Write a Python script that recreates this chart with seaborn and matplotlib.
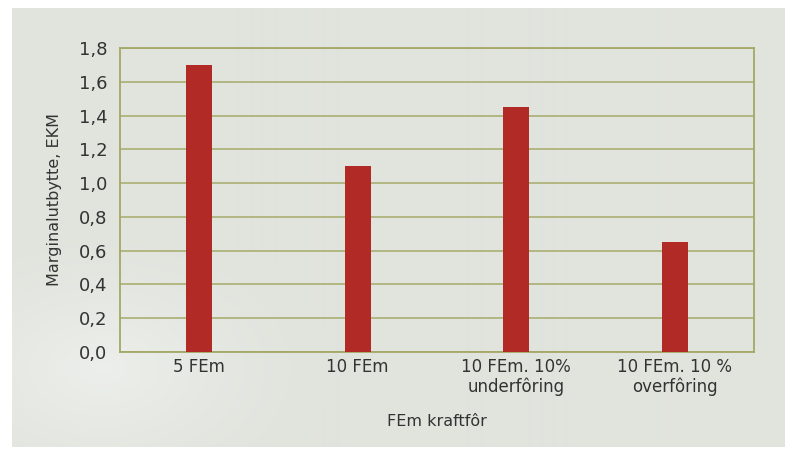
import matplotlib
matplotlib.use("Agg")
import matplotlib.pyplot as plt
import seaborn as sns
import pandas as pd
import numpy as np

categories = ["5 FEm", "10 FEm", "10 FEm. 10%\nunderfôring", "10 FEm. 10 %\noverfôring"]
values = [1.7, 1.1, 1.45, 0.65]
yticks = [0.0, 0.2, 0.4, 0.6, 0.8, 1.0, 1.2, 1.4, 1.6, 1.8]
ytick_labels = ["0,0", "0,2", "0,4", "0,6", "0,8", "1,0", "1,2", "1,4", "1,6", "1,8"]

sns.set_theme(style="white")
plt.rcParams['font.family'] = ['DejaVu Sans']

W, H = 788, 449
fig = plt.figure(figsize=(W / 100, H / 100), dpi=100)
fig.patch.set_facecolor("white")

# background panel with a soft lighter patch in the lower left
bax = fig.add_axes([12 / W, 1 - 447 / H, (784 - 12) / W, (447 - 8) / H])
bax.set_zorder(-10)
bax.axis("off")
pw, ph = 772, 439
yy, xx = np.mgrid[0:ph, 0:pw]
base = np.array([0xe1, 0xe4, 0xdd]) / 255.0
d = np.sqrt(((xx - 90) / 230.0) ** 2 + ((yy - 360) / 150.0) ** 2)
glow = np.clip(1 - d, 0, 1) ** 1.5 * 0.55
img = base[None, None, :] * (1 - glow[..., None]) + 0.97 * glow[..., None]
bax.imshow(img, aspect="auto", extent=(0, 1, 0, 1), origin="upper", interpolation="bilinear")

ax = fig.add_axes([120 / W, 1 - 352 / H, (754 - 120) / W, (352 - 48) / H])
ax.set_zorder(5)
ax.set_facecolor("none")

df = pd.DataFrame({"cat": categories, "val": values})
sns.barplot(data=df, x="cat", y="val", color="#b22a26", width=0.165, saturation=1,
            linewidth=0, ax=ax, zorder=3)

grid_c = "#afb37b"
ax.set_ylim(0, 1.8)
ax.set_yticks(yticks)
ax.set_yticklabels(ytick_labels)
ax.yaxis.grid(True, color=grid_c, linewidth=1.3)
ax.set_axisbelow(True)
for s in ax.spines.values():
    s.set_visible(True)
    s.set_color("#a3a866")
    s.set_linewidth(1.3)

ax.tick_params(axis="y", length=0, pad=9, labelsize=13, labelcolor="#333333")
ax.tick_params(axis="x", length=0, pad=4, labelsize=12, labelcolor="#333333")
for t in ax.get_xticklabels():
    t.set_linespacing(1.15)

ax.set_xlabel("FEm kraftfôr", fontsize=11.5, color="#333333", labelpad=13)
ax.set_ylabel("Marginalutbytte, EKM", fontsize=11.5, color="#333333", labelpad=12)

fig.savefig("out.png", dpi=100, facecolor=fig.get_facecolor())
